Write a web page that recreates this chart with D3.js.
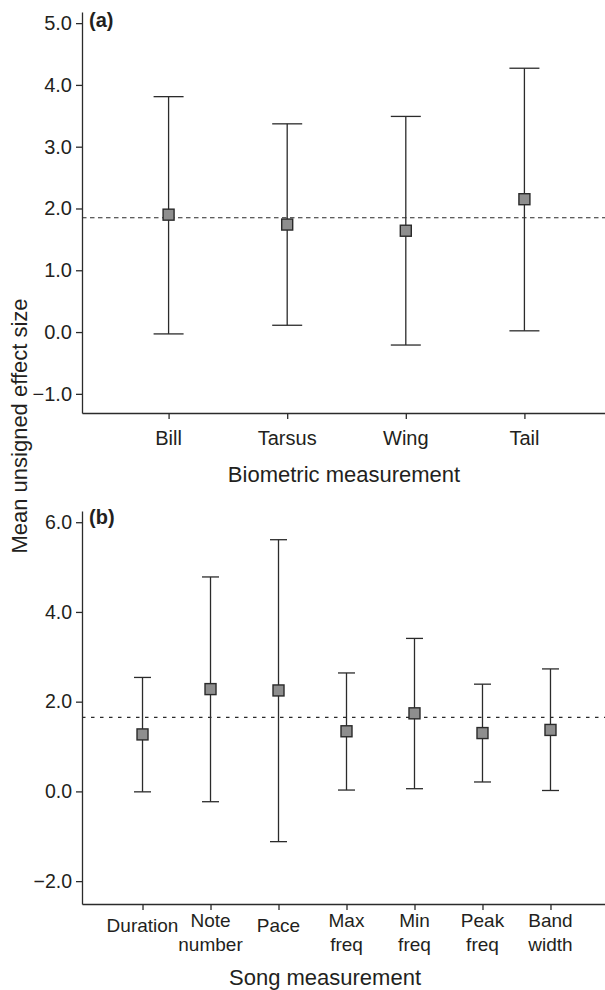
<!DOCTYPE html>
<html>
<head>
<meta charset="utf-8">
<script src="https://cdn.jsdelivr.net/npm/d3@7"></script>
<style>
  html, body { margin: 0; padding: 0; background: #fff; }
  svg { display: block; }
  text { font-family: "Liberation Sans", Arial, Helvetica, sans-serif; fill: #231f20; }
</style>
</head>
<body>
<svg id="chart" width="605" height="990"></svg>
<script>
// ---- Data: panel (a) biometric measurements ----
const bioCats  = ["Bill", "Tarsus", "Wing", "Tail"];
const bioMean  = [1.90, 1.74, 1.64, 2.15];
const bioLow   = [-0.03, 0.11, -0.21, 0.02];
const bioHigh  = [3.81, 3.37, 3.49, 4.27];
const bioRef   = 1.85;
const bioTicks = [-1, 0, 1, 2, 3, 4, 5];

// ---- Data: panel (b) song measurements ----
const songCats  = ["Duration", "Note number", "Pace", "Max freq", "Min freq", "Peak freq", "Band width"];
const songMean  = [1.27, 2.28, 2.25, 1.34, 1.74, 1.30, 1.37];
const songLow   = [-0.01, -0.23, -1.12, 0.03, 0.06, 0.21, 0.02];
const songHigh  = [2.54, 4.78, 5.61, 2.64, 3.41, 2.39, 2.73];
const songRef   = 1.65;
const songTicks = [-2, 0, 2, 4, 6];

const axisTitleY = "Mean unsigned effect size";
const ink = "#2b2b2b";
const svg = d3.select("#chart");

function panel(cfg) {
  const g = svg.append("g");
  const x = d3.scalePoint().domain(cfg.cats).range([cfg.left, cfg.right]).padding(cfg.padding);
  const y = d3.scaleLinear().domain(cfg.yDomain).range([cfg.bottom, cfg.top]);

  // y axis
  const ya = g.append("g")
    .attr("transform", `translate(${cfg.left},0)`)
    .call(d3.axisLeft(y).tickValues(cfg.ticks).tickSize(6).tickSizeOuter(0).tickPadding(4)
      .tickFormat(d3.format(".1f")));
  ya.selectAll("text").style("font-size", cfg.yTickFont + "px").attr("fill", "#231f20");

  // x axis
  const xa = g.append("g")
    .attr("transform", `translate(0,${cfg.bottom})`)
    .call(d3.axisBottom(x).tickSize(6).tickSizeOuter(0).tickFormat(""));

  [ya, xa].forEach(a => {
    a.select(".domain").attr("stroke", ink).attr("stroke-width", 1.3);
    a.selectAll(".tick line").attr("stroke", ink).attr("stroke-width", 1.3);
  });

  // x tick labels (possibly two lines)
  cfg.cats.forEach(c => {
    const lines = cfg.split ? c.split(" ") : [c];
    const t = g.append("text")
      .attr("x", x(c))
      .attr("text-anchor", "middle")
      .style("font-size", cfg.xTickFont + "px");
    if (lines.length === 1) {
      t.attr("y", cfg.bottom + cfg.labelOffset1).text(c);
    } else {
      lines.forEach((ln, i) => {
        t.append("tspan").attr("x", x(c))
          .attr("y", cfg.bottom + cfg.labelOffset2 + i * cfg.lineGap)
          .text(ln);
      });
    }
  });

  // reference dashed line
  g.append("line")
    .attr("x1", cfg.left).attr("x2", cfg.right)
    .attr("y1", y(cfg.ref)).attr("y2", y(cfg.ref))
    .attr("stroke", ink).attr("stroke-width", 1.2)
    .attr("stroke-dasharray", cfg.dash);

  // error bars
  cfg.cats.forEach((c, i) => {
    const cx = x(c);
    g.append("line").attr("x1", cx).attr("x2", cx)
      .attr("y1", y(cfg.low[i])).attr("y2", y(cfg.high[i]))
      .attr("stroke", ink).attr("stroke-width", 1.3);
    [cfg.low[i], cfg.high[i]].forEach(v => {
      g.append("line").attr("x1", cx - cfg.cap / 2).attr("x2", cx + cfg.cap / 2)
        .attr("y1", y(v)).attr("y2", y(v))
        .attr("stroke", ink).attr("stroke-width", 1.3);
    });
    const s = 11;
    g.append("rect").attr("x", cx - s / 2).attr("y", y(cfg.mean[i]) - s / 2)
      .attr("width", s).attr("height", s)
      .attr("fill", "#8e8e8e").attr("stroke", "#2a2a2a").attr("stroke-width", 1.4);
  });

  // panel label
  g.append("text").attr("x", cfg.left + 7).attr("y", cfg.panelLabelY)
    .style("font-size", "20px").style("font-weight", "bold").text(cfg.panelLabel);

  // x title
  g.append("text").attr("x", cfg.titleX).attr("y", cfg.titleY)
    .attr("text-anchor", "middle").style("font-size", "22px").text(cfg.title);
}

panel({
  cats: bioCats, mean: bioMean, low: bioLow, high: bioHigh, ref: bioRef, ticks: bioTicks,
  left: 82, right: 611, padding: 0.73, top: 12, bottom: 413, yDomain: [-1.31, 5.18],
  yTickFont: 20, xTickFont: 20, split: false, labelOffset1: 32,
  dash: "4.5,3.5", cap: 30, panelLabel: "(a)", panelLabelY: 27,
  title: "Biometric measurement", titleX: 344, titleY: 482
});

panel({
  cats: songCats, mean: songMean, low: songLow, high: songHigh, ref: songRef, ticks: songTicks,
  left: 82, right: 611, padding: 0.89, top: 511, bottom: 904, yDomain: [-2.51, 6.25],
  yTickFont: 19.5, xTickFont: 19, split: true, labelOffset1: 28, labelOffset2: 23, lineGap: 24,
  dash: "3.5,5.5", cap: 17, panelLabel: "(b)", panelLabelY: 524,
  title: "Song measurement", titleX: 325, titleY: 985
});

// shared y title
svg.append("text")
  .attr("transform", "translate(27,426) rotate(-90)")
  .attr("text-anchor", "middle")
  .style("font-size", "22px")
  .text(axisTitleY);
</script>
</body>
</html>
